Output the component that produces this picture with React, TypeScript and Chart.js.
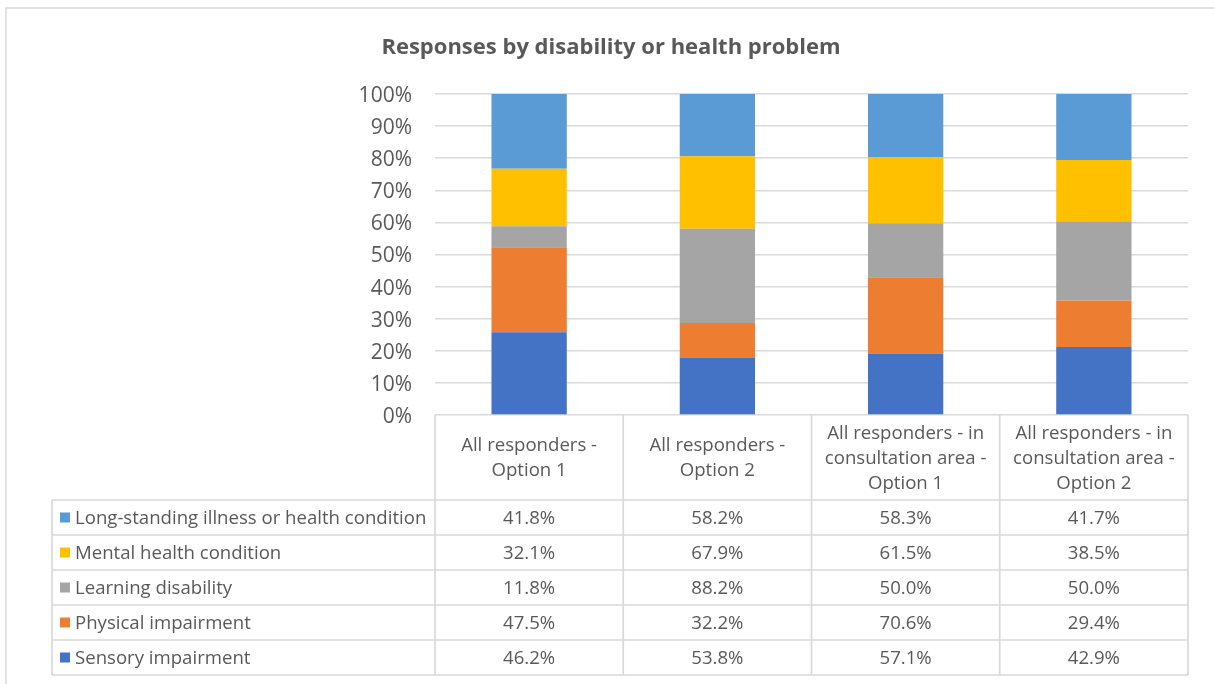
import React, { useEffect, useRef } from "react";
import { Chart, registerables } from "chart.js";
Chart.register(...registerables);

const TITLE = "Responses by disability or health problem";
const categories: string[][] = [
  ["All responders -", "Option 1"],
  ["All responders -", "Option 2"],
  ["All responders - in", "consultation area -", "Option 1"],
  ["All responders - in", "consultation area -", "Option 2"],
];
const seriesNames = [
  "Sensory impairment",
  "Physical impairment",
  "Learning disability",
  "Mental health condition",
  "Long-standing illness or health condition",
];
const sensory = [46.2, 53.8, 57.1, 42.9];
const physical = [47.5, 32.2, 70.6, 29.4];
const learning = [11.8, 88.2, 50.0, 50.0];
const mental = [32.1, 67.9, 61.5, 38.5];
const longStanding = [41.8, 58.2, 58.3, 41.7];
const seriesValues = [sensory, physical, learning, mental, longStanding];
const seriesColors = ["#4472C4", "#ED7D31", "#A5A5A5", "#FFC000", "#5B9BD5"];

const FONT = "'Open Sans', Lato, sans-serif";
const TEXT = "#595959";
const LINE = "#d9d9d9";

const totals = categories.map((_, i) =>
  seriesValues.reduce((s, arr) => s + arr[i], 0)
);

const tablePlugin = {
  id: "dataTable",
  afterDraw(chart: any) {
    const { ctx, chartArea } = chart;
    const n = categories.length;
    const left = chartArea.left;
    const right = chartArea.right;
    const colW = (right - left) / n;
    const bounds = Array.from({ length: n + 1 }, (_, i) => left + i * colW);
    const headerTop = chartArea.bottom;
    const headerH = 85;
    const rowH = 35;
    const tableLeft = 52;
    const rowsTop = headerTop + headerH;
    const rowCount = seriesNames.length;
    const tableBottom = rowsTop + rowH * rowCount;

    ctx.save();
    ctx.strokeStyle = LINE;
    ctx.lineWidth = 1.5;
    ctx.strokeRect(6, 8, chart.width + 10, chart.height + 10);

    // title
    ctx.fillStyle = TEXT;
    ctx.font = `bold 22px ${FONT}`;
    ctx.textAlign = "center";
    ctx.textBaseline = "middle";
    ctx.fillText(TITLE, 611, 48);

    ctx.lineWidth = 1.7;
    bounds.forEach((x) => {
      ctx.beginPath();
      ctx.moveTo(x, headerTop);
      ctx.lineTo(x, tableBottom);
      ctx.stroke();
    });
    ctx.beginPath();
    ctx.moveTo(tableLeft, rowsTop);
    ctx.lineTo(tableLeft, tableBottom);
    ctx.stroke();
    for (let r = 0; r <= rowCount; r++) {
      const y = rowsTop + r * rowH;
      ctx.beginPath();
      ctx.moveTo(tableLeft, y);
      ctx.lineTo(right, y);
      ctx.stroke();
    }

    ctx.fillStyle = TEXT;
    ctx.font = `18.6px ${FONT}`;
    ctx.textAlign = "center";
    ctx.textBaseline = "middle";
    const lh = 25;
    categories.forEach((lines, i) => {
      const cx = (bounds[i] + bounds[i + 1]) / 2;
      const cy = headerTop + headerH / 2 + 1;
      const start = cy - ((lines.length - 1) * lh) / 2;
      lines.forEach((t, k) => ctx.fillText(t, cx, start + k * lh));
    });

    for (let r = 0; r < rowCount; r++) {
      const si = rowCount - 1 - r;
      const cy = rowsTop + r * rowH + rowH / 2;
      ctx.fillStyle = seriesColors[si];
      ctx.fillRect(60, cy - 5, 10, 10);
      ctx.fillStyle = TEXT;
      ctx.textAlign = "left";
      ctx.fillText(seriesNames[si], 75, cy + 1.5);
      ctx.textAlign = "center";
      seriesValues[si].forEach((v, i) => {
        const cx = (bounds[i] + bounds[i + 1]) / 2;
        ctx.fillText(v.toFixed(1) + "%", cx, cy + 1.5);
      });
    }
    ctx.restore();
  },
};

export default function App() {
  const ref = useRef<HTMLCanvasElement | null>(null);
  useEffect(() => {
    if (!ref.current) return;
    const chart = new Chart(ref.current, {
      type: "bar",
      data: {
        labels: categories.map((c) => c.join(" ")),
        datasets: seriesNames.map((name, si) => ({
          label: name,
          data: seriesValues[si].map((v, i) => (v / totals[i]) * 100),
          backgroundColor: seriesColors[si],
          borderWidth: 0,
          barPercentage: 0.4,
          categoryPercentage: 1,
        })),
      },
      options: {
        animation: false,
        responsive: true,
        maintainAspectRatio: false,
        layout: { padding: { left: 0, right: 26, top: 94, bottom: 269 } },
        plugins: {
          legend: { display: false },
          tooltip: { enabled: false },
          title: { display: false },
        },
        scales: {
          x: {
            stacked: true,
            display: false,
          },
          y: {
            stacked: true,
            min: 0,
            max: 100,
            border: { display: false },
            grid: { color: LINE, lineWidth: 1.5, drawTicks: false },
            ticks: {
              stepSize: 10,
              padding: 23,
              labelOffset: 2,
              color: TEXT,
              font: { family: FONT, size: 21 },
              callback: (v: any) => v + "%",
            },
            afterFit: (scale: any) => {
              scale.width = 435;
            },
          },
        },
      },
      plugins: [tablePlugin],
    });
    return () => chart.destroy();
  }, []);
  return (
    <div style={{ position: "absolute", left: 0, top: 0, width: 1214, height: 684, background: "#fff" }}>
      <canvas ref={ref} />
    </div>
  );
}
